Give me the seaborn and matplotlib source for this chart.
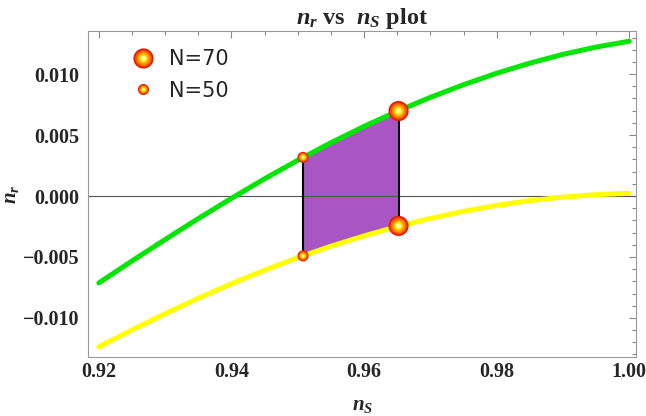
import seaborn as sns
import matplotlib.pyplot as plt
import matplotlib.ticker as mticker
from matplotlib.lines import Line2D
from matplotlib.legend_handler import HandlerTuple
import pandas as pd
import numpy as np

# values
ns = [0.920, 0.925, 0.930, 0.935, 0.940, 0.945, 0.950, 0.955, 0.960,
      0.965, 0.970, 0.975, 0.980, 0.985, 0.990, 0.995, 1.000]
nr_green = [-0.00713, -0.00533, -0.00357, -0.00185, -0.00019, 0.00141,
            0.00293, 0.00437, 0.00571, 0.00695, 0.00809, 0.00913,
            0.01007, 0.01090, 0.01162, 0.01222, 0.01270]
nr_yellow = [-0.01238, -0.01099, -0.00966, -0.00839, -0.00720, -0.00609,
             -0.00506, -0.00412, -0.00327, -0.00251, -0.00184, -0.00126,
             -0.00077, -0.00038, -0.00009, 0.00011, 0.00022]

# N=50 and N=70 points (ns, upper nr, lower nr)
pt_labels = ["N=70", "N=50"]
pt_ns = [0.9652, 0.9508]
pt_upper = [0.00697, 0.00317]
pt_lower = [-0.00245, -0.00491]

# boundary of the shaded band
band_ns = [0.9508, 0.955, 0.960, 0.9652]
band_upper = [0.00317, 0.00437, 0.00571, 0.00697]
band_lower = [-0.00491, -0.00412, -0.00327, -0.00245]

curves = pd.DataFrame({"ns": ns, "green": nr_green, "yellow": nr_yellow})

sns.set_style("white")
plt.rcParams["font.family"] = ["Liberation Serif", "DejaVu Serif"]
plt.rcParams["font.weight"] = "bold"
plt.rcParams["mathtext.fontset"] = "custom"
plt.rcParams["mathtext.rm"] = "Liberation Serif:bold"
plt.rcParams["mathtext.it"] = "Liberation Serif:italic:bold"
plt.rcParams["mathtext.bf"] = "Liberation Serif:bold"

fig = plt.figure(figsize=(6.46, 4.16), dpi=100)
ax = fig.add_axes([0.136, 0.142, 0.849, 0.783])

ax.fill_between(band_ns, band_lower, band_upper, color="#a756c3", lw=0, zorder=1)
ax.axhline(0, color="#555555", lw=0.8, zorder=1.5)

sns.lineplot(data=curves, x="ns", y="green", color="#00e600", lw=3.6, ax=ax, zorder=2)
sns.lineplot(data=curves, x="ns", y="yellow", color="#ffff00", lw=3.6, ax=ax, zorder=2)

ax.vlines(pt_ns, pt_lower, pt_upper, color="black", lw=1.5, zorder=3)

# glowing markers: concentric circles from red rim to yellow centre
sizes = {"N=70": 14.5, "N=50": 8.0}
layers = [(1.00, "#e01a00"), (0.84, "#ff5000"), (0.66, "#ff9200"),
          (0.46, "#ffd800"), (0.26, "#ffffa0")]
handles = []
for lab, x, yu, yl in zip(pt_labels, pt_ns, pt_upper, pt_lower):
    d = sizes[lab]
    for frac, col in layers:
        sns.scatterplot(x=[x, x], y=[yu, yl], s=(d * frac) ** 2, color=col,
                        edgecolor="none", linewidth=0, ax=ax, zorder=4, legend=False)
    handles.append(tuple(Line2D([], [], ls="none", marker="o", markersize=d * frac,
                                markerfacecolor=col, markeredgewidth=0)
                         for frac, col in layers))

ax.legend(handles, pt_labels, handler_map={tuple: HandlerTuple(ndivide=1)},
          loc="upper left", bbox_to_anchor=(0.078, 0.945), frameon=False,
          borderpad=0, borderaxespad=0, handlelength=1.15, handletextpad=0.7,
          labelspacing=0.55, prop={"family": "DejaVu Sans", "size": 15, "weight": "normal"})

ax.set_xlim(0.91834, 1.00106)
ax.set_ylim(-0.0132, 0.01352)
ax.xaxis.set_major_locator(mticker.MultipleLocator(0.02))
ax.xaxis.set_minor_locator(mticker.MultipleLocator(0.005))
ax.yaxis.set_major_locator(mticker.MultipleLocator(0.005))
ax.yaxis.set_minor_locator(mticker.MultipleLocator(0.001))
ax.xaxis.set_major_formatter(mticker.FuncFormatter(lambda v, p: f"{v:.2f}"))
ax.yaxis.set_major_formatter(
    mticker.FuncFormatter(lambda v, p: f"{v:.3f}".replace("-", "\u2212") if abs(v) > 1e-9 else "0.000"))

ax.tick_params(which="both", direction="in", top=True, right=True, color="#888888",
               labelsize=14.5, width=0.8)
ax.tick_params(which="major", length=5)
ax.tick_params(axis="x", which="major", pad=4)
ax.tick_params(axis="y", which="major", pad=6)
ax.tick_params(which="minor", length=3)
for sp in ax.spines.values():
    sp.set_color("#999999")
    sp.set_linewidth(0.8)

ax.set_xlabel(r"$n_S$", fontsize=15, labelpad=10)
ax.set_ylabel(r"$n_r$", fontsize=15)
ax.yaxis.set_label_coords(-0.122, 0.5)
ax.set_title(r"$n_r$ vs  $n_S$ plot", fontsize=17.5, fontweight="bold", pad=5)

fig.savefig("out.png", dpi=100)
